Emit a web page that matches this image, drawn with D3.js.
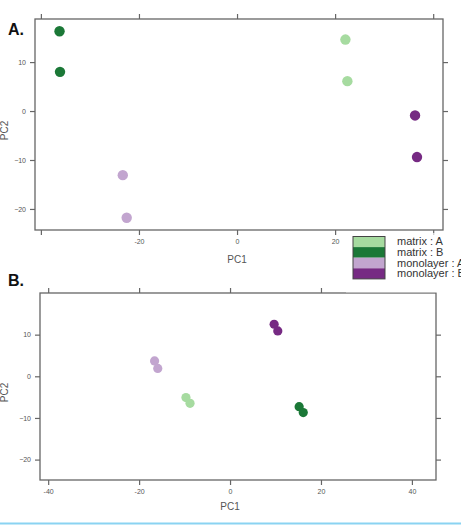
<!DOCTYPE html>
<html>
<head>
<meta charset="utf-8">
<script src="https://cdn.jsdelivr.net/npm/d3@7"></script>
<style>
  html, body { margin: 0; padding: 0; background: #fff; }
  svg { display: block; font-family: "Liberation Sans", Arial, sans-serif; }
</style>
</head>
<body>
<svg></svg>
<script>
const width = 461;
const height = 525;

// groups + colours (PRGn style)
const groups = ["matrix : A", "matrix : B", "monolayer : A", "monolayer : B"];
const groupColors = ["#a6dba0", "#1b7837", "#c2a5cf", "#762a83"];

// panel A points
const groupA = [1, 1, 0, 0, 3, 3, 2, 2];
const pc1A = [-36.2, -36.1, 22.1, 22.5, 36.3, 36.7, -23.3, -22.5];
const pc2A = [16.3, 8.0, 14.6, 6.1, -0.9, -9.4, -13.1, -21.8];

// panel B points
const groupB = [3, 3, 2, 2, 0, 0, 1, 1];
const pc1B = [9.7, 10.5, -16.6, -15.9, -9.7, -8.8, 15.2, 16.1];
const pc2B = [12.5, 10.9, 3.7, 1.9, -5.1, -6.5, -7.3, -8.7];

// ticks
const xTicks = [-40, -20, 0, 20, 40];
const yTicks = [-20, -10, 0, 10];
const xLabelsA = [-20, 0, 20];
const xLabelsB = [-40, -20, 0, 20, 40];

const axisColor = "#666";
const svg = d3.select("svg").attr("width", width).attr("height", height);

function drawPanel(p) {
  const x = d3.scaleLinear().domain(p.xDomain).range([p.left, p.right]);
  const y = d3.scaleLinear().domain(p.yDomain).range([p.bottom, p.top]);
  const g = svg.append("g");

  const fmt = labels => d => labels.includes(d) ? d : "";

  const axes = [
    [d3.axisBottom(x).tickValues(xTicks).tickFormat(fmt(p.xLabels)), p.bottom, "x"],
    [d3.axisTop(x).tickValues(p.topTicks).tickFormat(""), p.top, "x"],
    [d3.axisLeft(y).tickValues(yTicks), p.left, "y"],
    [d3.axisRight(y).tickValues(yTicks).tickFormat(""), p.right, "y"]
  ];
  axes.forEach(([ax, pos, dir]) => {
    const a = g.append("g")
      .attr("transform", dir === "x" ? `translate(0,${pos})` : `translate(${pos},0)`)
      .call(ax.tickSize(5).tickPadding(4));
    a.select(".domain").remove();
    a.selectAll("line").attr("stroke", axisColor).attr("stroke-width", 1.2);
    a.selectAll("text").attr("fill", "#555").style("font-size", "7px")
      .style("font-family", "'Liberation Sans', Arial, sans-serif");
  });

  g.append("rect")
    .attr("x", p.left).attr("y", p.top)
    .attr("width", p.right - p.left).attr("height", p.bottom - p.top)
    .attr("fill", "none").attr("stroke", axisColor).attr("stroke-width", 1.3);

  g.selectAll("circle")
    .data(p.group.map((gi, i) => ({ g: gi, x: p.pc1[i], y: p.pc2[i] })))
    .enter().append("circle")
    .attr("cx", d => x(d.x))
    .attr("cy", d => y(d.y))
    .attr("r", p.r)
    .attr("fill", d => groupColors[d.g]);

  g.append("text")
    .attr("x", x(0)).attr("y", p.pc1Y)
    .attr("text-anchor", "middle")
    .attr("fill", "#555").style("font-size", "10px")
    .text("PC1");

  g.append("text")
    .attr("transform", `translate(8,${(p.top + p.bottom) / 2 + 6}) rotate(-90)`)
    .attr("text-anchor", "middle")
    .attr("fill", "#555").style("font-size", "10px")
    .text("PC2");

  g.append("text")
    .attr("x", 8).attr("y", p.letterY)
    .attr("fill", "#111").style("font-size", "16px").style("font-weight", "bold")
    .text(p.letter);
}

drawPanel({
  letter: "A.", letterY: 35,
  left: 35, right: 443, top: 19, bottom: 230,
  xDomain: [-41.2, 42.0], yDomain: [-24.3, 18.8],
  xLabels: xLabelsA, topTicks: xTicks,
  group: groupA, pc1: pc1A, pc2: pc2A, r: 5.2, pc1Y: 263
});

drawPanel({
  letter: "B.", letterY: 286,
  left: 40, right: 436, top: 293, bottom: 480,
  xDomain: [-41.8, 45.3], yDomain: [-24.9, 20.0],
  xLabels: xLabelsB, topTicks: [-40, -20, 0, 20],
  group: groupB, pc1: pc1B, pc2: pc2B, r: 4.6, pc1Y: 510
});

// legend (sits on a faded white patch over panel B's top edge)
svg.append("rect")
  .attr("x", 346).attr("y", 233).attr("width", 115).attr("height", 59.5)
  .attr("fill", "#fff").attr("opacity", 0.65);

const legend = svg.append("g").attr("transform", "translate(353,236.5)");
const rowH = 10.6;
legend.selectAll("rect.sw")
  .data(groups).enter().append("rect")
  .attr("class", "sw")
  .attr("x", 0).attr("y", (d, i) => i * rowH)
  .attr("width", 32).attr("height", rowH)
  .attr("fill", (d, i) => groupColors[i]);
legend.append("rect")
  .attr("width", 32).attr("height", rowH * groups.length)
  .attr("fill", "none").attr("stroke", "#444").attr("stroke-width", 1);
legend.selectAll("text")
  .data(groups).enter().append("text")
  .attr("x", 44).attr("y", (d, i) => i * rowH + 8.8)
  .attr("fill", "#333").style("font-size", "11px")
  .text(d => d);

// thin blue rule at the bottom of the figure
svg.append("line")
  .attr("x1", 0).attr("x2", width).attr("y1", 523.5).attr("y2", 523.5)
  .attr("stroke", "#8ad3f2").attr("stroke-width", 2);
</script>
</body>
</html>
